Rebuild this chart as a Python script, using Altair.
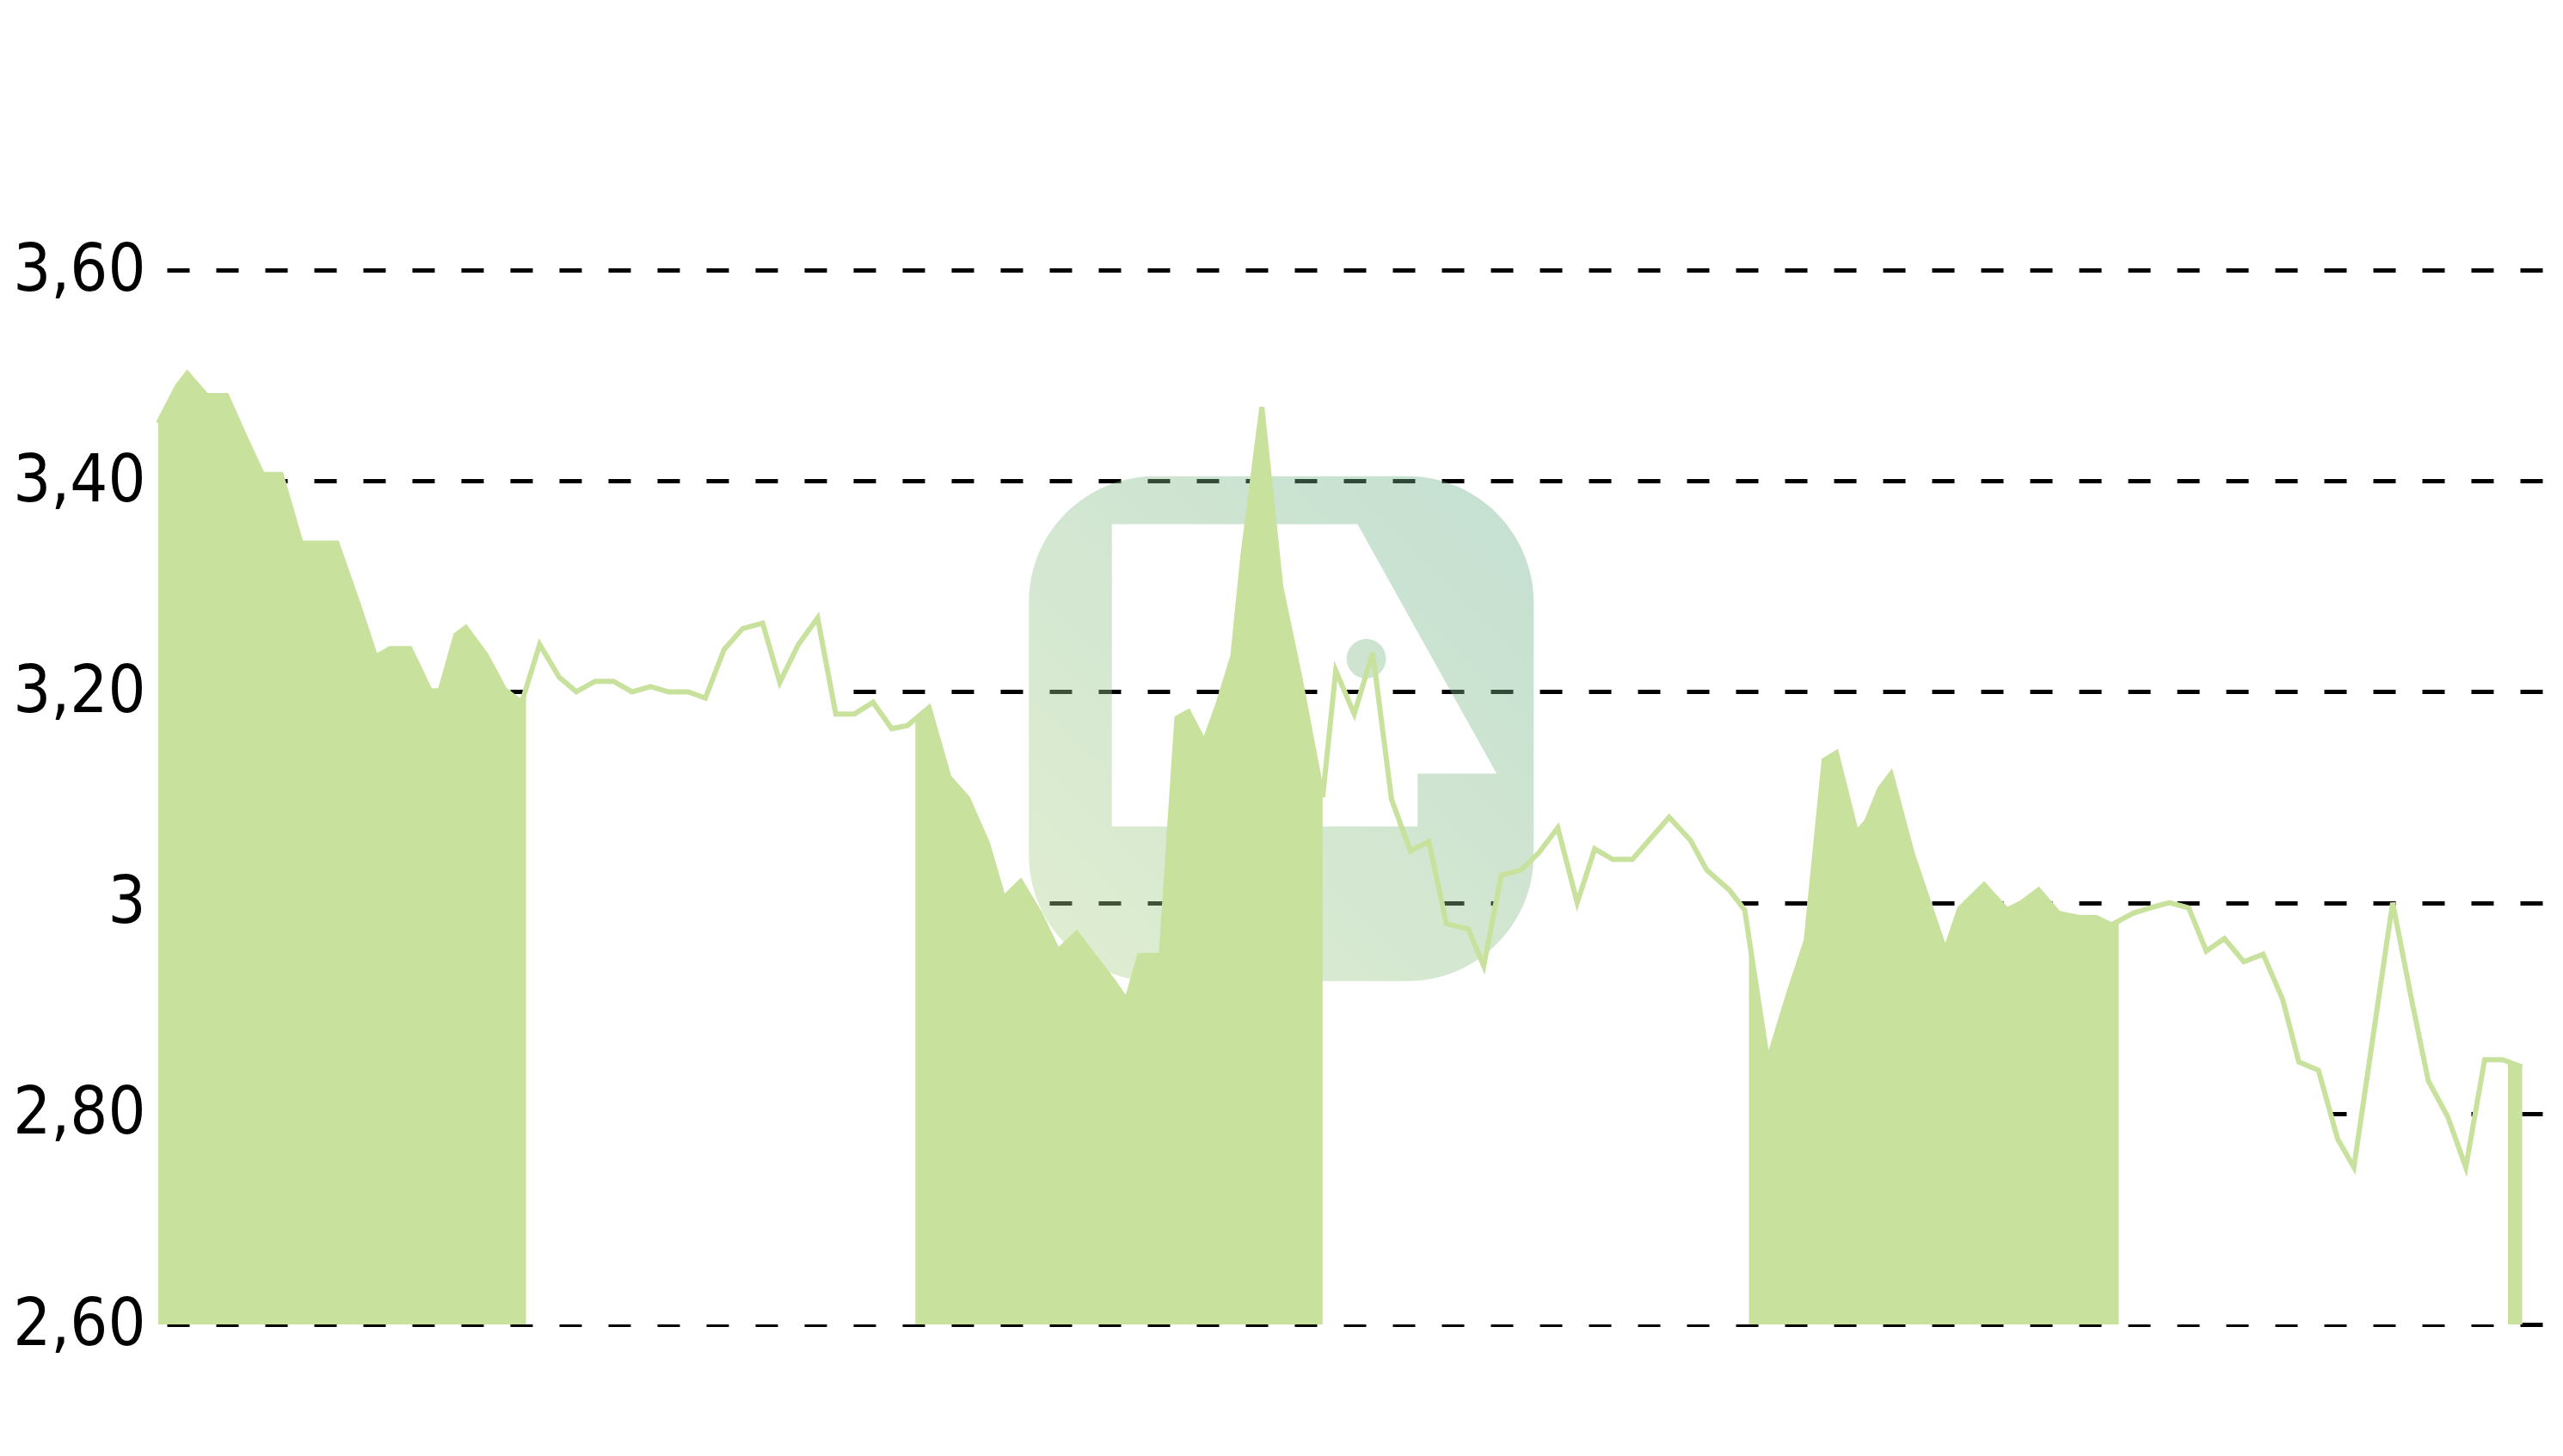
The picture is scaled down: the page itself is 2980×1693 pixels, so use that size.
import altair as alt
import numpy as np
import pandas as pd

# trading-day position (x) and price (y)
t = [0.00, 1.04, 1.57, 2.61, 3.70, 4.66, 5.64, 6.65, 7.73, 8.71, 9.67, 10.83, 11.77, 12.54,
     13.63, 14.72, 15.26, 16.12, 16.65, 17.74, 18.75, 19.68,
     20.65, 21.70, 22.63, 23.65, 24.65, 25.65, 26.66, 27.60, 28.69, 29.62, 30.63, 31.64,
     32.72, 33.65, 34.66, 35.70, 36.68, 37.69, 38.70, 39.71, 40.56,
     41.73, 42.81, 43.82, 44.90, 45.76, 46.69, 47.72, 48.71, 49.72, 50.71, 51.72, 52.43,
     53.13, 54.30, 55.15, 55.77, 56.63, 57.41, 58.18, 58.73, 59.75, 60.77, 61.79, 63.04,
     63.75, 64.75, 65.75, 66.77, 67.79, 68.79, 69.74, 70.93, 71.76, 72.71, 73.78, 74.73,
     75.77, 76.82, 77.77, 78.75, 79.81, 80.80, 81.80, 82.96, 83.83, 85.06, 85.89,
     87.14, 88.29, 89.22, 90.19, 90.85, 91.94, 92.49, 93.20, 93.81, 94.97, 96.75, 97.52,
     98.15, 98.85, 100.09, 100.87, 101.80, 102.88, 103.96, 104.90, 105.75,
     106.92, 107.85, 108.88, 109.93, 110.88, 111.86, 112.91, 113.96, 115.02, 115.89,
     116.95, 117.99, 118.87, 120.97, 122.03, 122.90, 123.95, 124.93, 125.95, 126.93,
     127.98]
price = [3.455, 3.490, 3.502, 3.481, 3.481, 3.443, 3.406, 3.406, 3.341, 3.341, 3.341, 3.283,
         3.233, 3.241, 3.241, 3.201, 3.201, 3.254, 3.261, 3.235, 3.202, 3.190,
         3.245, 3.214, 3.200, 3.210, 3.210, 3.200, 3.205, 3.200, 3.200, 3.194, 3.240, 3.260,
         3.265, 3.209, 3.245, 3.270, 3.179, 3.179, 3.190, 3.165, 3.168,
         3.185, 3.119, 3.099, 3.056, 3.004, 3.020, 2.990, 2.954, 2.971, 2.948, 2.925, 2.907,
         2.950, 2.950, 3.175, 3.181, 3.152, 3.190, 3.234, 3.330, 3.470, 3.300, 3.215, 3.100,
         3.220, 3.179, 3.237, 3.098, 3.049, 3.058, 2.980, 2.975, 2.940, 3.026, 3.031, 3.047,
         3.071, 3.000, 3.051, 3.041, 3.041, 3.061, 3.081, 3.059, 3.031, 3.012, 2.993,
         2.849, 2.915, 2.964, 3.135, 3.142, 3.066, 3.077, 3.108, 3.122, 3.046, 2.954, 2.994,
         3.005, 3.017, 2.993, 3.000, 3.012, 2.990, 2.986, 2.986, 2.979,
         2.990, 2.995, 3.000, 2.995, 2.954, 2.966, 2.944, 2.951, 2.908, 2.849,
         2.841, 2.776, 2.749, 3.000, 2.905, 2.831, 2.797, 2.749, 2.851, 2.851,
         2.844]

# month spans that are shaded green (in the same x units)
green_months = [(0.0, 19.91), (40.99, 63.04), (86.12, 106.14), (127.21, 127.98)]

y_ticks = [2.6, 2.8, 3.0, 3.2, 3.4, 3.6]
y_labels = ["2,60", "2,80", "3", "3,20", "3,40", "3,60"]

x_domain = [0, 129.82]
y_domain = [2.6, 3.6]

GREEN = "#c8e29e"

line_df = pd.DataFrame({"t": t, "v": price})

rows = []
for g, (a, b) in enumerate(green_months):
    pts = [(a, float(np.interp(a, t, price)))]
    pts += [(ti, vi) for ti, vi in zip(t, price) if a < ti < b]
    pts.append((b, float(np.interp(b, t, price))))
    for ti, vi in pts:
        rows.append({"t": ti, "v": vi, "g": g})
green_df = pd.DataFrame(rows)

label_expr = " : ".join(
    f"abs(datum.value - {v}) < 0.01 ? '{lab}'" for v, lab in zip(y_ticks, y_labels)
) + " : ''"

xs = alt.Scale(domain=x_domain, nice=False, zero=False)
ys = alt.Scale(domain=y_domain, nice=False, zero=False)

y_axis = alt.Axis(
    values=y_ticks,
    labelExpr=label_expr,
    grid=True,
    gridColor="black",
    gridWidth=5,
    gridDash=[26, 31],
    gridDashOffset=47,
    domain=False,
    ticks=False,
    tickSize=0,
    labelPadding=15,
    labelFont="Liberation Sans Narrow, Arial Narrow, DejaVu Sans Condensed, sans-serif",
    labelFontSize=77,
    labelColor="black",
    labelOverlap=False,
    labelLimit=0,
    title=None,
    zindex=0,
)

X = alt.X("t:Q", scale=xs, axis=None)
Y = alt.Y("v:Q", scale=ys, axis=y_axis)

white_area = alt.Chart(line_df).mark_area(color="white", opacity=1).encode(
    x=X, y=Y, y2=alt.datum(2.6),
)

# watermark logo (rounded square with a cut-out and a dot)
def circle(cx, cy, r):
    k = 0.5523 * r
    return (f"M{cx+r},{cy} C{cx+r},{cy+k} {cx+k},{cy+r} {cx},{cy+r} "
            f"C{cx-k},{cy+r} {cx-r},{cy+k} {cx-r},{cy} "
            f"C{cx-r},{cy-k} {cx-k},{cy-r} {cx},{cy-r} "
            f"C{cx+k},{cy-r} {cx+r},{cy-k} {cx+r},{cy} Z")

r = 0.5
k = 0.5523 * r
outer = (f"M{-1+r},-1 L{1-r},-1 C{1-r+k},-1 1,{-1+r-k} 1,{-1+r} "
         f"L1,{1-r} C1,{1-r+k} {1-r+k},1 {1-r},1 "
         f"L{-1+r},1 C{-1+r-k},1 -1,{1-r+k} -1,{1-r} "
         f"L-1,{-1+r} C-1,{-1+r-k} {-1+r-k},-1 {-1+r},-1 Z")
hole = "M-0.671,-0.81 L-0.671,0.387 L0.54,0.387 L0.54,0.178 L0.853,0.178 L0.302,-0.81 Z"
dot = circle(0.337, -0.277, 0.078)
logo_path = outer + " " + hole + " " + dot

logo_df = pd.DataFrame({"t": [60.8], "v": [3.165]})
logo = alt.Chart(logo_df).mark_point(
    shape=logo_path,
    size=587 ** 2,
    filled=True,
    fill={"gradient": "linear", "x1": 0, "y1": 1, "x2": 1, "y2": 0,
          "stops": [{"offset": 0, "color": "#b2d48a"},
                    {"offset": 1, "color": "#6baf8e"}]},
    opacity=0.4,
    strokeWidth=0,
).encode(x=X, y=Y)

green_area = alt.Chart(green_df).mark_area(color=GREEN, opacity=1).encode(
    x=X, y=Y, y2=alt.datum(2.6), detail="g:N",
)

line = alt.Chart(line_df).mark_line(color=GREEN, strokeWidth=6).encode(x=X, y=Y)

chart = alt.layer(white_area, logo, green_area, line).properties(
    width=2788,
    height=1226,
    padding={"left": 176, "top": 306, "right": 0, "bottom": 100},
    autosize=alt.AutoSizeParams(type="none"),
    background="white",
).configure_view(stroke=None)

chart.save("out.html", embed_options={"renderer": "svg", "actions": False})
